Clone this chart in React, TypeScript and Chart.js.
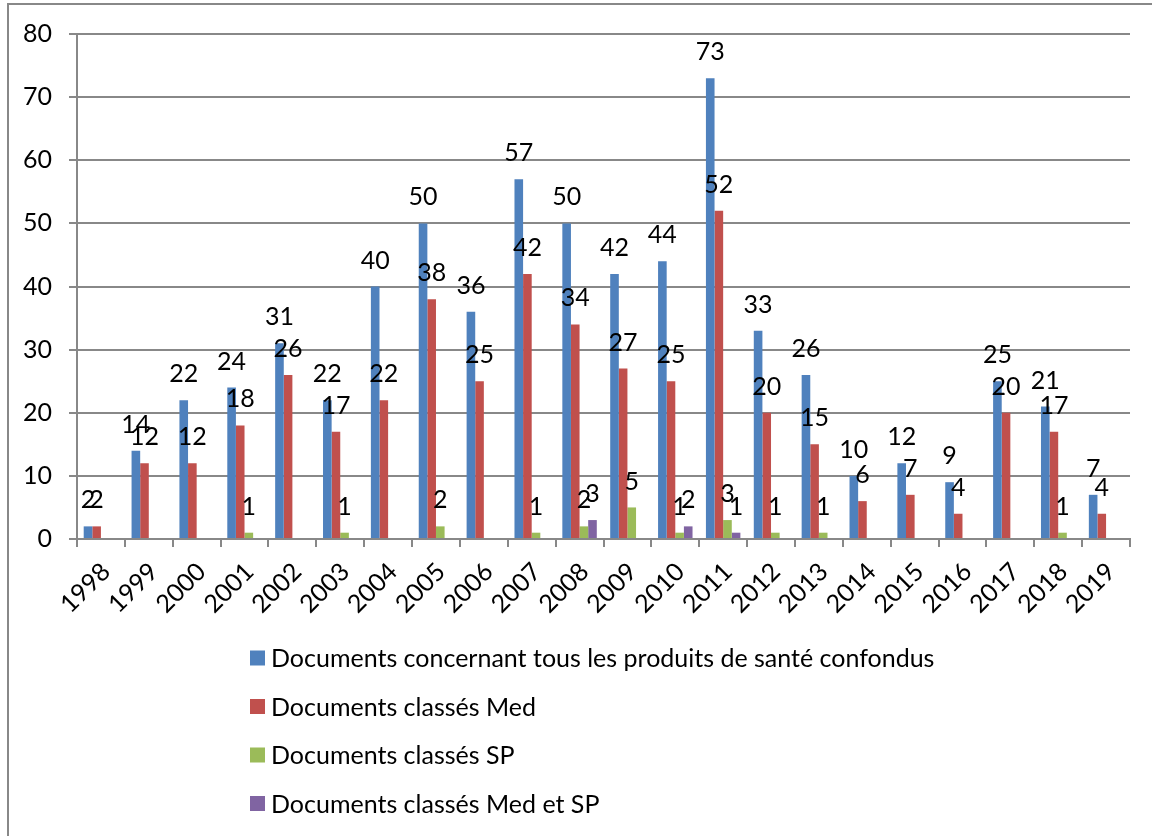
import React, { useEffect, useRef } from "react";
import { Chart, registerables } from "chart.js";

Chart.register(...registerables);

const years = ["1998","1999","2000","2001","2002","2003","2004","2005","2006","2007","2008","2009","2010","2011","2012","2013","2014","2015","2016","2017","2018","2019"];
const allProducts = [2,14,22,24,31,22,40,50,36,57,50,42,44,73,33,26,10,12,9,25,21,7];
const medDocs = [2,12,12,18,26,17,22,38,25,42,34,27,25,52,20,15,6,7,4,20,17,4];
const spDocs = [0,0,0,1,0,1,0,2,0,1,2,5,1,3,1,1,0,0,0,0,1,0];
const medSpDocs = [0,0,0,0,0,0,0,0,0,0,3,0,2,1,0,0,0,0,0,0,0,0];
const seriesNames = [
  "Documents concernant tous les produits de santé confondus",
  "Documents classés Med",
  "Documents classés SP",
  "Documents classés Med et SP",
];
const seriesColors = ["#4F81BD", "#C0504D", "#9BBB59", "#8064A2"];
const yTicks = [0, 10, 20, 30, 40, 50, 60, 70, 80];

const FONT = "Lato, 'Open Sans', sans-serif";
const FSIZE = 25;
const GRID = "#888888";

const labelsPlugin = {
  id: "barLabels",
  afterDatasetsDraw(chart: any) {
    const ctx = chart.ctx;
    ctx.save();
    ctx.font = `${FSIZE}px ${FONT}`;
    ctx.fillStyle = "#000";
    ctx.textAlign = "center";
    ctx.textBaseline = "middle";
    chart.data.datasets.forEach((ds: any, i: number) => {
      const meta = chart.getDatasetMeta(i);
      meta.data.forEach((el: any, j: number) => {
        const v = ds.data[j];
        if (v > 0) ctx.fillText(String(v), el.x, el.y - 26);
      });
    });
    ctx.restore();
  },
};

const legendPlugin = {
  id: "sideLegend",
  afterDraw(chart: any) {
    const ctx = chart.ctx;
    ctx.save();
    ctx.font = `${FSIZE}px ${FONT}`;
    ctx.textAlign = "left";
    ctx.textBaseline = "middle";
    chart.data.datasets.forEach((ds: any, i: number) => {
      const cy = 658 + i * 48.5;
      ctx.fillStyle = ds.backgroundColor;
      ctx.fillRect(250, cy - 7.5, 15, 15);
      ctx.fillStyle = "#000";
      ctx.fillText(ds.label, 271, cy + 1);
    });
    ctx.restore();
  },
};

const framePlugin = {
  id: "frame",
  beforeDraw(chart: any) {
    const ctx = chart.ctx;
    ctx.save();
    ctx.fillStyle = "#fff";
    ctx.fillRect(0, 0, chart.width, chart.height);
    ctx.strokeStyle = GRID;
    ctx.lineWidth = 2;
    ctx.beginPath();
    ctx.moveTo(8, chart.height + 2);
    ctx.lineTo(8, 4);
    ctx.lineTo(chart.width + 2, 4);
    ctx.stroke();
    ctx.restore();
  },
};

export default function App() {
  const ref = useRef<HTMLCanvasElement | null>(null);
  useEffect(() => {
    if (!ref.current) return;
    const datasets = [allProducts, medDocs, spDocs, medSpDocs].map((d, i) => ({
      label: seriesNames[i],
      data: d,
      backgroundColor: seriesColors[i],
      categoryPercentage: 0.72,
      barPercentage: 1,
    }));
    const chart = new Chart(ref.current, {
      type: "bar",
      data: { labels: years, datasets },
      options: {
        responsive: false,
        animation: false,
        devicePixelRatio: 1,
        layout: { padding: { left: 0, top: 34, right: 22, bottom: 0 } },
        plugins: { legend: { display: false }, tooltip: { enabled: false } },
        scales: {
          x: {
            grid: { display: true, drawOnChartArea: false, color: GRID, lineWidth: 2, tickLength: 8, offset: true },
            border: { color: GRID, width: 2 },
            ticks: { color: "#000", font: { family: FONT, size: FSIZE }, minRotation: 45, maxRotation: 45, padding: 10, labelOffset: 5, autoSkip: false },
            afterFit(scale: any) { scale.height = 836 - 539; },
          },
          y: {
            min: 0,
            max: 80,
            afterBuildTicks(scale: any) { scale.ticks = yTicks.map((v) => ({ value: v })); },
            grid: { color: GRID, lineWidth: 2, tickLength: 8 },
            border: { color: GRID, width: 2 },
            ticks: { color: "#000", font: { family: FONT, size: FSIZE }, padding: 17 },
            afterFit(scale: any) { scale.width = 77; },
          },
        },
      },
      plugins: [framePlugin, labelsPlugin, legendPlugin],
    });
    return () => chart.destroy();
  }, []);
  return (
    <div style={{ position: "fixed", left: 0, top: 0, width: 1152, height: 836, background: "#fff" }}>
      <canvas ref={ref} width={1152} height={836} style={{ display: "block" }} />
    </div>
  );
}
